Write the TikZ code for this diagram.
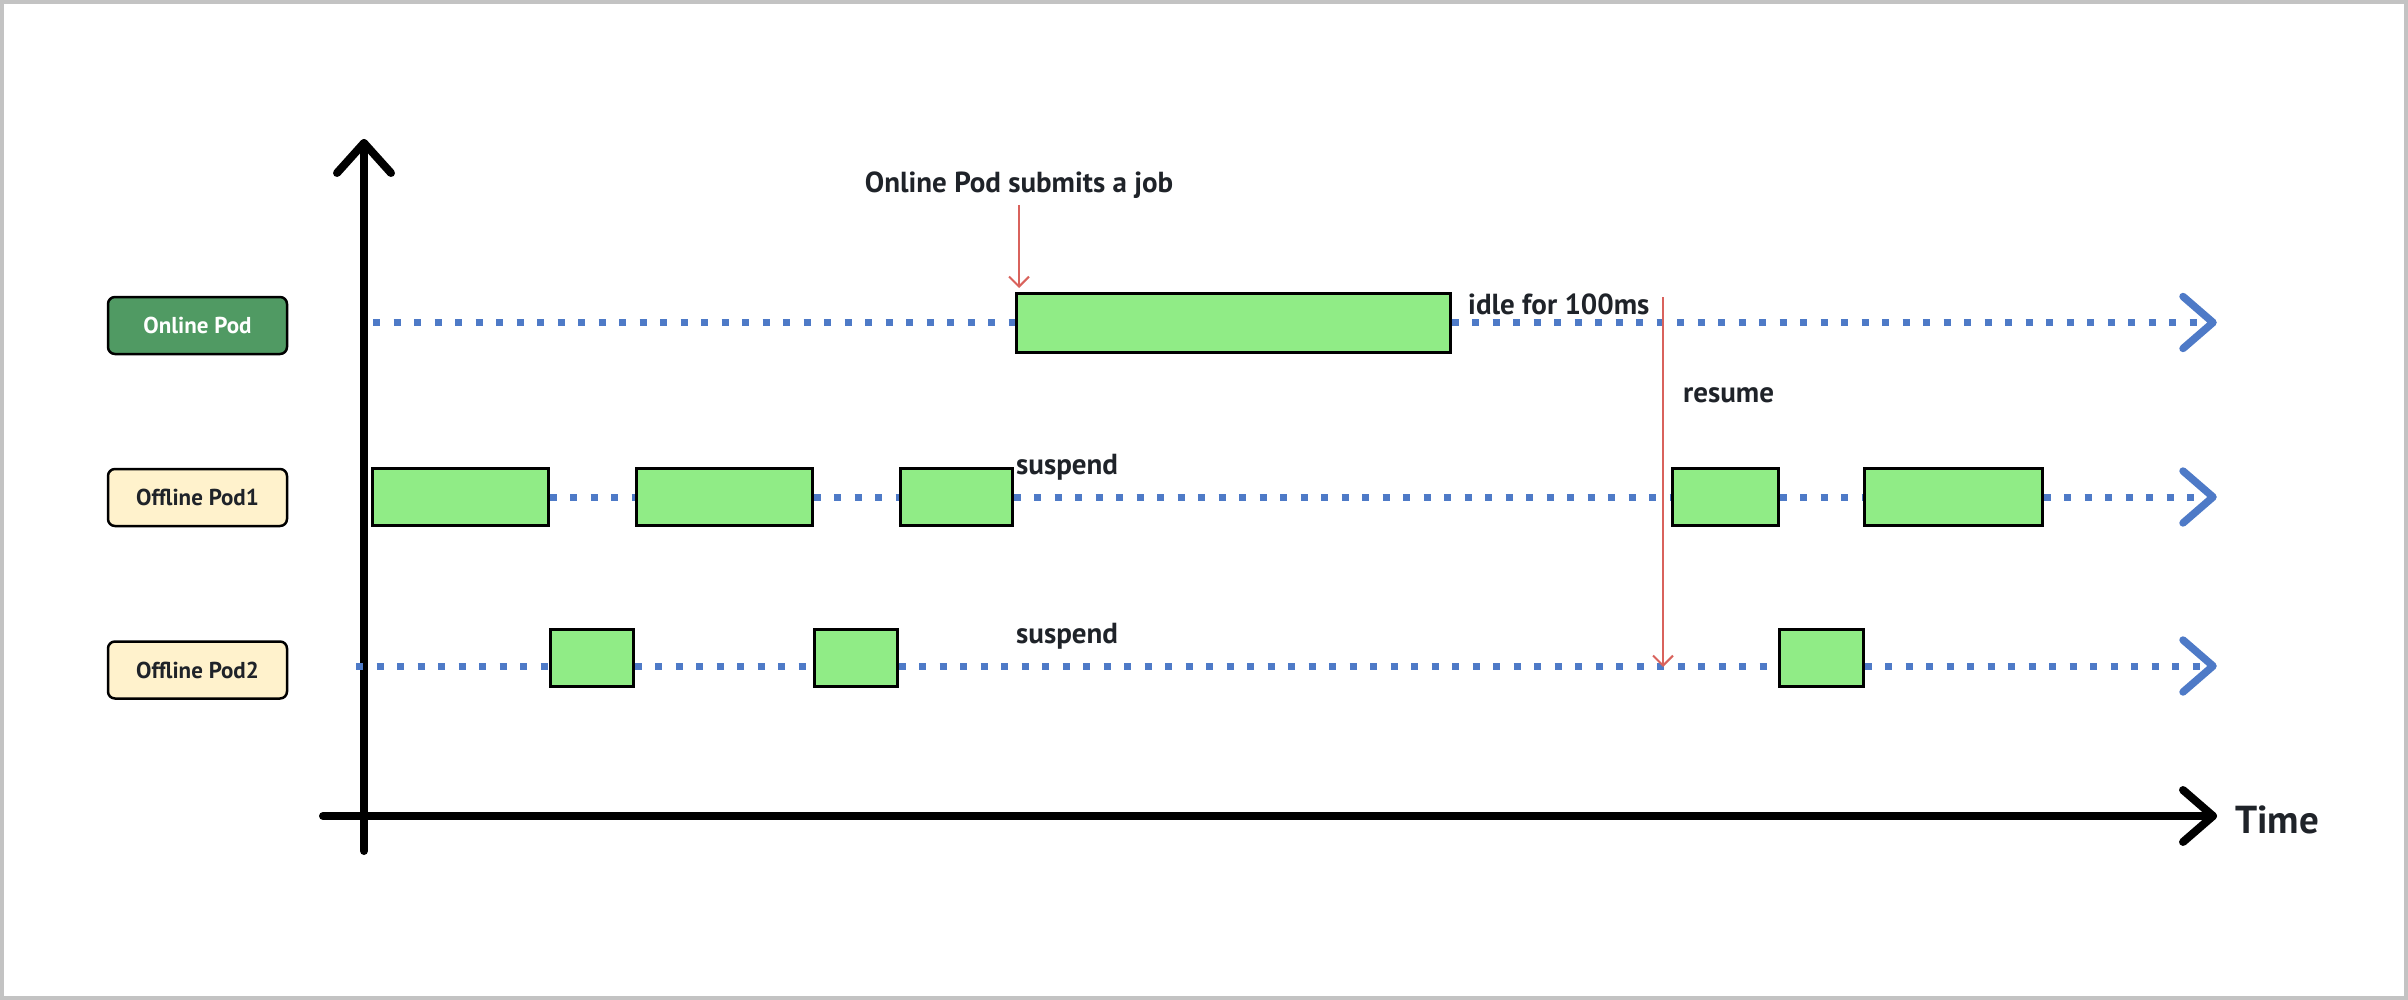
\documentclass[tikz,border=0pt]{standalone}
\usepackage{fontspec}
\setmainfont{PT Sans}
\usetikzlibrary{arrows.meta,calc}
\definecolor{framegray}{RGB}{195,195,195}
\definecolor{txt}{RGB}{31,35,41}
\definecolor{onlinefill}{RGB}{80,154,99}
\definecolor{offlinefill}{RGB}{255,242,204}
\definecolor{jobfill}{RGB}{144,236,134}
\definecolor{dotblue}{RGB}{78,122,199}
\definecolor{redline}{RGB}{217,98,92}
\tikzset{
  podbox/.style={draw=black, line width=2.5pt, rounded corners=7pt, minimum width=179pt, minimum height=57pt, font=\bfseries\fontsize{23}{27}\selectfont, inner sep=0pt},
  jobbox/.style={draw=black, fill=jobfill, line width=3pt, inner sep=0pt},
  dotline/.style={draw=dotblue, line width=7pt, dash pattern=on 7pt off 13.5pt},
  chev/.style={draw=dotblue, line width=7.5pt, line cap=round, line join=round},
  axis/.style={draw=black, line width=8pt, line cap=round, line join=round},
  redarrow/.style={draw=redline, line width=2pt, -{Straight Barb[length=10pt,width=20pt]}},
  lbl/.style={text=txt, font=\bfseries\fontsize{29}{34}\selectfont, inner sep=0pt},
}
\begin{document}
\begin{tikzpicture}[x=1pt,y=-1pt]
\useasboundingbox (0,0) rectangle (2408,1000);
\draw[framegray, line width=4pt] (2,2) rectangle (2406,998);

% axes
\coordinate (yb) at (364,851);
\coordinate (yt) at (364,143);
\coordinate (xl) at (323,816);
\coordinate (xr) at (2213,816);
\draw[axis] (yb) -- (yt);
\draw[axis] ($(yt)+(-27,30)$) -- (yt) -- ($(yt)+(27,30)$);
\draw[axis] (xl) -- (xr);
\draw[axis] ($(xr)+(-30,-26)$) -- (xr) -- ($(xr)+(-30,26)$);
\node[lbl, font=\bfseries\fontsize{39}{44}\selectfont, anchor=base west] (time) at (2235,833) {Time};

% pod labels
\node[podbox, fill=onlinefill, text=white] (online) at (197.5,325.5) {Online Pod};
\node[podbox, fill=offlinefill, text=txt] (off1) at (197.5,497.5) {Offline Pod1};
\node[podbox, fill=offlinefill, text=txt] (off2) at (197.5,670) {Offline Pod2};

% line end coordinates
\coordinate (s0) at (373,322.5);
\coordinate (e0) at (2213,322.5);
\coordinate (e1) at (2213,497);
\coordinate (s2) at (356,666);
\coordinate (e2) at (2213,666);

% online row
\node[jobbox, minimum width=434pt, minimum height=59pt] (job) at (1233,322.5) {};
\draw[dotline] (s0) -- (job.west);
\draw[dotline, shorten >=6pt] (job.east) -- (e0);
\draw[chev] ($(e0)+(-30,-26)$) -- (e0) -- ($(e0)+(-30,26)$);

% offline pod1 row
\node[jobbox, minimum width=176pt, minimum height=57pt] (p1a) at (460,497) {};
\node[jobbox, minimum width=176pt, minimum height=57pt] (p1b) at (724,497) {};
\node[jobbox, minimum width=112pt, minimum height=57pt] (p1c) at (956,497) {};
\node[jobbox, minimum width=106pt, minimum height=57pt] (p1d) at (1725,497) {};
\node[jobbox, minimum width=178pt, minimum height=57pt] (p1e) at (1953,497) {};
\draw[dotline] (p1a.east) -- (p1b.west);
\draw[dotline] (p1b.east) -- (p1c.west);
\draw[dotline] (p1c.east) -- (p1d.west);
\draw[dotline] (p1d.east) -- (p1e.west);
\draw[dotline, shorten >=6pt] (p1e.east) -- (e1);
\draw[chev] ($(e1)+(-30,-26)$) -- (e1) -- ($(e1)+(-30,26)$);

% offline pod2 row
\node[jobbox, minimum width=83pt, minimum height=57pt] (p2a) at (591.5,657.5) {};
\node[jobbox, minimum width=83pt, minimum height=57pt] (p2b) at (855.5,657.5) {};
\node[jobbox, minimum width=84pt, minimum height=57pt] (p2c) at (1821,657.5) {};
\draw[dotline] (s2) -- (p2a.west |- s2);
\draw[dotline] (p2a.east |- s2) -- (p2b.west |- s2);
\draw[dotline] (p2b.east |- s2) -- (p2c.west |- s2);
\draw[dotline, shorten >=6pt] (p2c.east |- s2) -- (e2);
\draw[chev] ($(e2)+(-30,-26)$) -- (e2) -- ($(e2)+(-30,26)$);

% annotations
\node[lbl, anchor=base] (submit) at (1019,193) {Online Pod submits a job};
\coordinate (sa) at (1019,205);
\coordinate (sb) at (1019,288);
\draw[redarrow] (sa) -- (sb);

\node[lbl, anchor=base west] (idle) at (1468,314) {idle for 100ms};
\node[lbl, anchor=base west] (resume) at (1683,402) {resume};
\coordinate (ra) at (1663,297);
\coordinate (rb) at (1663,667);
\draw[redarrow] (ra) -- (rb);

\node[lbl, anchor=base west] (susp1) at (1016,474) {suspend};
\node[lbl, anchor=base west] (susp2) at (1016,643) {suspend};
\end{tikzpicture}
\end{document}
